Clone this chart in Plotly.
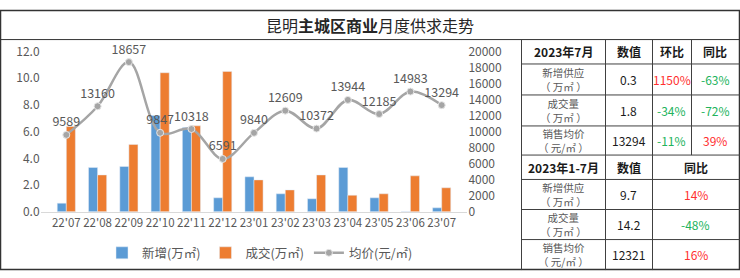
import plotly.graph_objects as go

W, H = 740, 278

months = ["22'07", "22'08", "22'09", "22'10", "22'11", "22'12", "23'01",
          "23'02", "23'03", "23'04", "23'05", "23'06", "23'07"]
supply = [0.65, 3.32, 3.39, 7.2, 6.3, 1.05, 2.62, 1.35, 0.98, 3.32, 1.05, 0.03, 0.3]
deal = [6.38, 2.76, 5.04, 10.4, 6.43, 10.5, 2.39, 1.64, 2.76, 1.24, 1.35, 2.69, 1.8]
price = [9589, 13160, 18657, 9847, 10318, 6591, 9840, 12609, 10372, 13944, 12185, 14983, 13294]

t1_header = ["2023年7月", "数值", "环比", "同比"]
row_labels = ["新增供应<br>（ 万㎡ ）", "成交量<br>（ 万㎡ ）", "销售均价<br>（ 元/㎡ ）"]
t1_values = ["0.3", "1.8", "13294"]
t1_mom = ["1150%", "-34%", "-11%"]
t1_yoy = ["-63%", "-72%", "39%"]
t2_header = ["2023年1-7月", "数值", "同比"]
t2_values = ["9.7", "14.2", "12321"]
t2_yoy = ["14%", "-48%", "16%"]


def px(x):
    return x / W


def py(y):
    return 1 - y / H


FONT = "Noto Sans CJK SC, sans-serif"
GRAY = "#595959"
RED = "#ff2f2f"
GREEN = "#22b35c"
LINE = "#404040"

fig = go.Figure()
fig.add_trace(go.Bar(x=months, y=supply, name="新增(万㎡)", marker_color="#5b9bd5", yaxis="y"))
fig.add_trace(go.Bar(x=months, y=deal, name="成交(万㎡)", marker_color="#ed7d31", yaxis="y"))
fig.add_trace(go.Scatter(
    x=months, y=price, name="均价(元/㎡)", yaxis="y2",
    mode="lines+markers+text", line=dict(color="#a5a5a5", width=2.5, shape="spline", smoothing=1),
    marker=dict(color="#a5a5a5", size=7, line=dict(color="#e6e6e6", width=1)),
    text=[str(v) for v in price], textposition="top center",
    textfont=dict(size=12.5, color=GRAY, family=FONT), cliponaxis=False,
))

shapes = []


def hline(x0, x1, y, color=LINE, width=1):
    shapes.append(dict(type="line", xref="paper", yref="paper", x0=px(x0), x1=px(x1),
                       y0=py(y), y1=py(y), line=dict(color=color, width=width)))


def vline(x, y0, y1, color=LINE, width=1):
    shapes.append(dict(type="line", xref="paper", yref="paper", x0=px(x), x1=px(x),
                       y0=py(y0), y1=py(y1), line=dict(color=color, width=width)))


# outer frame
hline(0, 740, 0.5, "#333333", 1.5)
hline(0, 740, 276.5, "#333333", 1.5)
vline(0.5, 0, 277, "#333333", 1.5)
vline(739.5, 0, 277, "#333333", 1.5)
hline(0, 740, 31.5, "#333333", 1)
# table
vline(521.5, 31, 277)
for y in [57.5, 90.5, 123.5, 154.5, 180.5, 212.5, 244.5]:
    hline(521, 740, y)
for x in [605.5, 652.5, 691.5]:
    vline(x, 31, 154.5)
for x in [605.5, 652.5]:
    vline(x, 154.5, 277)

ann = []


def text(x, y, s, size=12, color="#1a1a1a"):
    ann.append(dict(x=px(x), y=py(y), xref="paper", yref="paper", text=s, showarrow=False,
                    xanchor="center", yanchor="middle", font=dict(size=size, color=color, family=FONT)))


def sign_color(s):
    return GREEN if s.startswith("-") else RED


ann.append(dict(x=0.5, y=py(16), xref="paper", yref="paper", showarrow=False,
                text="昆明<b>主城区商业</b>月度供求走势", xanchor="center", yanchor="middle",
                font=dict(size=16, color="#262626", family=FONT)))

cols1 = [563, 628.5, 671.5, 715]
for cx, h in zip(cols1, t1_header):
    text(cx, 44.5, "<b>%s</b>" % h, 12)
rows1 = [74, 107, 139.5]
for i, cy in enumerate(rows1):
    text(cols1[0], cy, row_labels[i], 10.5, GRAY)
    text(cols1[1], cy, t1_values[i], 12)
    text(cols1[2], cy, t1_mom[i], 12, sign_color(t1_mom[i]))
    text(cols1[3], cy, t1_yoy[i], 12, sign_color(t1_yoy[i]))

cols2 = [563, 628.5, 695.5]
for cx, h in zip(cols2, t2_header):
    text(cx, 167.5, "<b>%s</b>" % h, 12)
rows2 = [196.5, 228.5, 260.5]
for i, cy in enumerate(rows2):
    text(cols2[0], cy, row_labels[i], 10.5, GRAY)
    text(cols2[1], cy, t2_values[i], 12)
    text(cols2[2], cy, t2_yoy[i], 12, sign_color(t2_yoy[i]))

tickfont = dict(size=12, color=GRAY, family=FONT)
xtickfont = dict(size=11.5, color=GRAY, family=FONT)
fig.update_layout(
    width=W, height=H, margin=dict(l=0, r=0, t=0, b=0, pad=0),
    paper_bgcolor="white", plot_bgcolor="white",
    barmode="group", bargap=0.42, bargroupgap=0,
    font=dict(family=FONT, color=GRAY),
    xaxis=dict(domain=[px(40.6), px(467.4)], showgrid=False, showline=True, linecolor="#d9d9d9",
               linewidth=1, ticks="", tickfont=xtickfont, tickangle=0, fixedrange=True),
    yaxis=dict(domain=[py(215), py(44)], range=[0, 12], dtick=2, tickformat=".1f", showgrid=False,
               zeroline=False, showline=False, ticks="", tickfont=tickfont),
    yaxis2=dict(overlaying="y", side="right", range=[0, 20000], dtick=2000, tickformat="d",
                showgrid=False, zeroline=False, showline=False, ticks="", tickfont=tickfont,
                anchor="x"),
    legend=dict(orientation="h", x=px(260), xanchor="center", y=py(259), yanchor="middle",
                font=dict(size=12.5, color=GRAY, family=FONT), bgcolor="rgba(0,0,0,0)",
                itemwidth=30, tracegroupgap=0),
    showlegend=True,
    shapes=shapes, annotations=ann,
)

fig.write_html("out.html")
